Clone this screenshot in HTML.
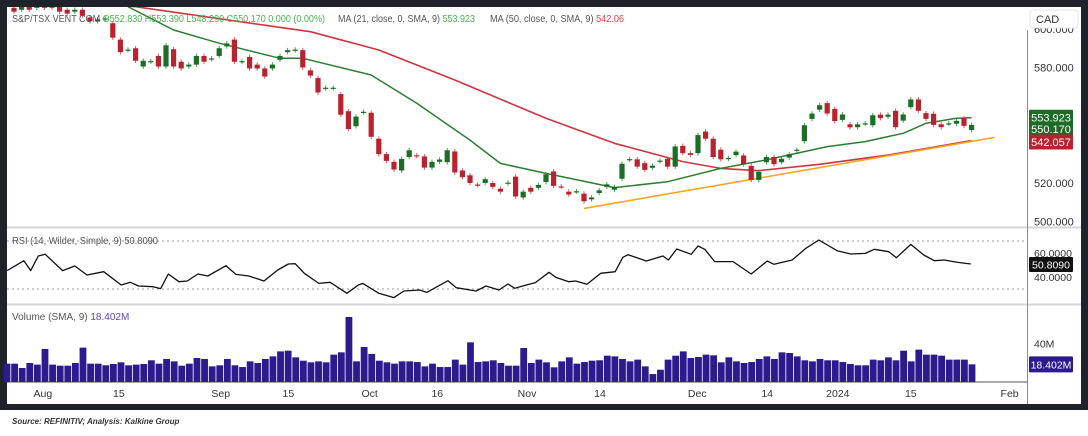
<!DOCTYPE html>
<html><head><meta charset="utf-8">
<style>
html,body{margin:0;padding:0;background:#fff;}
body{width:1088px;height:436px;overflow:hidden;position:relative;font-family:"Liberation Sans",sans-serif;}
svg{position:absolute;left:0;top:0;}
</style></head>
<body>
<svg id="chart" width="1088" height="436" viewBox="0 0 1088 436" xmlns="http://www.w3.org/2000/svg">
  <rect x="0" y="0" width="1088" height="410" fill="#1f222b"/>
  <rect x="7" y="7" width="1074" height="397" fill="#ffffff"/>
  <defs>
    <clipPath id="mainClip"><rect x="7" y="7" width="1020" height="220"/></clipPath>
    <clipPath id="rsiClip"><rect x="7" y="228" width="1020" height="76"/></clipPath>
  </defs>
  <line x1="7" y1="227.5" x2="1081" y2="227.5" stroke="#d6d6d6" stroke-width="2"/>
  <line x1="7" y1="304.5" x2="1081" y2="304.5" stroke="#d6d6d6" stroke-width="2"/>
  <line x1="1027.5" y1="30" x2="1027.5" y2="404" stroke="#8a8a8a" stroke-width="1"/>
  <line x1="7" y1="382" x2="1027" y2="382" stroke="#555" stroke-width="1"/>
  <g id="gMain" clip-path="url(#mainClip)"></g>
  <g id="gRsi" clip-path="url(#rsiClip)"></g>
  <g id="gVol"></g>
  <g id="gAxis"></g>
  <g id="gLabels"></g>
  <text x="12" y="22" font-size="10" fill="#555" textLength="313" lengthAdjust="spacingAndGlyphs">S&amp;P/TSX VENT COM <tspan fill="#4caf50">O552.830  H553.390  L548.290  C550.170  0.000 (0.00%)</tspan></text>
  <text x="338" y="22" font-size="10" fill="#555" textLength="137" lengthAdjust="spacingAndGlyphs">MA (21, close, 0, SMA, 9)  <tspan fill="#4caf50">553.923</tspan></text>
  <text x="490" y="22" font-size="10" fill="#555" textLength="134" lengthAdjust="spacingAndGlyphs">MA (50, close, 0, SMA, 9)  <tspan fill="#e04050">542.06</tspan></text>
  <rect x="1030" y="10" width="48" height="18" rx="3" fill="#fff" stroke="#e4e4e4"/>
  <text x="1036" y="23" font-size="11" fill="#333">CAD</text>
  <text x="12" y="244" font-size="10" fill="#555" textLength="146" lengthAdjust="spacingAndGlyphs">RSI (14, Wilder, Simple, 9)  50.8090</text>
  <text x="12" y="320" font-size="10" fill="#555">Volume (SMA, 9)  <tspan fill="#5b47c8">18.402M</tspan></text>
  <text x="12" y="424" font-size="8" font-weight="bold" font-style="italic" fill="#333">Source: REFINITIV; Analysis: Kalkine Group</text>
</svg>
<script>
// ---- data ----
const opens=[611,610,612,611,613,611,612,610,609,610,606,604,605,603,594.5,589,590,580.5,583,586,580.5,589.5,583,580.5,581.5,586,584.3,586,591,594.5,583,585.5,581.5,579.5,579.5,584,588,589,589,578.5,574.5,569.2,569.2,566.2,557.3,549.5,556.7,556.5,543,535,531,526.5,533.5,534.4,533.8,528,531,530.8,536.4,526.5,524,519.2,520,520,517,519.8,523.3,512.5,517.5,517.5,520.5,526,518.2,515.5,515.5,514.5,511.5,514.8,518,516.5,522.2,532.1,532.3,530.3,527.9,531.3,532.6,528.5,539.3,535.5,535.5,546.7,543,537.3,532.6,534.5,534.3,528.9,521.6,530.8,533.5,530.8,533.2,536.8,541.7,553.3,558.1,561.5,558.5,552.8,550.5,549,550.8,550,555.5,554.4,557.5,552.4,559.4,563.4,556.3,556,550.5,550.8,550.8,553.7,547.5];
const closes=[609,612,610,613,611,612,609,608,610,607,604,605,605.5,595.5,588,589.3,583.5,583.5,583.3,580.5,591.5,580.5,579.5,581.5,586,583,584.7,590,592.5,583,583.3,579.5,579.5,575.3,581.5,586,589,589.3,580,575.8,567,569.5,569.5,555.5,548,554.5,557,544,535,531.5,527,532.5,537,534,528,531,532.2,537,525.5,523,520,519,522,518,515.5,520.2,513,515.5,515.5,519,524.5,518.5,518,514,515.7,510.5,512.5,516.2,519.3,518,530,532.4,528.5,526.8,529,531.6,528.5,539,535.5,534.6,544.9,543,533.5,532.3,533,536.3,529.8,521.6,525.8,533.5,529.8,532.6,535,537.3,550,556.1,560.4,556.1,552.2,555.6,548.9,550.5,551,555.2,553.7,555.5,549,555.6,563.4,557.5,553.3,550.2,549,551,552.3,549.7,550.17];
const ma21Idx=[15,21,27,35,38,47,53,60,64,70,79,86,93,99,107,112,117,120,124,126];
const ma21Val=[611.6,599.5,592.6,584.8,584.8,576.1,561.4,542.3,530.2,525,517.6,520.7,527.6,532,538.9,541.5,545.8,551,553.6,553.9];
const ma50Idx=[11,16,39,48,58,70,79,88,93,98,106,115,126];
const ma50Val=[613,611.6,598.6,589.1,573.5,553.6,540.6,531.1,527.6,526.4,529.7,534.5,542.06];
const trendIdx=[75,129];
const trendVal=[506.8,543.7];
const rsiIdx=[-0.9,1.3,2.2,3.2,4.1,6.4,8.0,9.6,11.8,14.1,15.3,16.4,18.3,19.3,20.3,21.7,22.8,24.2,25.5,27.9,29.2,30.9,32.9,34.7,36.1,37.0,38.2,40.1,41.6,43.8,45.3,45.9,48.0,50.0,51.3,53.4,54.3,57.1,58.2,60.8,62.1,63.8,65.0,65.9,67.4,68.6,70.4,71.3,73.0,73.9,75.4,77.2,79.1,80.1,80.8,83.2,85.4,86.1,87.2,89.1,90.0,90.9,92.2,94.6,97.0,99.1,100.0,102.4,104.2,105.9,108.3,110.1,112.0,113.2,115.1,116.1,118.0,119.7,121.1,122.4,124.2,125.9];
const rsiVal=[45.3,53.6,45.3,57.5,58.9,45.3,49.2,41.7,44.4,33.3,35.6,32.5,31.9,30.3,42.5,36.1,36.7,42.5,40.8,49.4,42.2,40.8,36.7,45.8,50.8,51.1,43.1,34.7,35.6,26.4,33.3,34.7,26.4,22.8,28.3,29.2,27.2,36.9,31.1,28.3,32.5,29.2,34.2,30.6,33.3,35.3,43.9,39.7,36.1,36.7,33.9,43.1,44.4,56.4,58.6,53.3,57.5,54.2,63.3,58.9,65.8,63.1,52.8,52.8,42.5,53.3,50.6,54.2,63.9,70.8,61.9,59.2,59.7,63.1,61.1,56.1,67.2,58.3,53.6,54.2,52.2,50.81];
const volumes=[19.1,19.1,14.6,19.8,18.1,34.4,18.1,17.0,17.0,19.8,35.8,19.1,19.1,17.4,18.8,20.5,17.4,18.1,18.8,22.6,19.1,24.0,21.5,17.0,19.1,25.0,24.0,16.3,17.4,24.0,17.4,15.6,21.5,19.8,24.0,26.7,31.9,32.6,25.7,22.2,20.5,21.5,20.5,28.5,30.9,67.7,21.5,36.5,29.2,22.2,20.5,19.1,21.5,21.5,20.8,16.3,19.1,15.6,15.6,23.3,18.1,41.3,20.8,21.5,22.6,19.8,17.0,17.0,35.4,19.8,23.3,20.5,15.3,21.5,25.7,19.1,20.8,22.2,22.6,27.4,26.7,24.0,21.5,23.3,16.3,8.3,12.8,23.3,27.4,31.9,25.0,26.0,28.5,27.8,20.5,25.7,21.5,19.8,20.8,24.0,26.7,24.0,30.9,30.2,26.7,22.6,21.5,24.0,22.6,22.6,20.8,18.8,17.4,17.4,23.3,22.6,25.7,22.6,32.6,21.5,33.7,28.5,28.5,27.4,23.3,23.3,23.3,18.4];
const priceTicks=[600,580,560,540,520,500];
const rsiTicks=[60,40];
const volTicks=[40];
const dateLabels=["Aug","15","Sep","15","Oct","16","Nov","14","Dec","14","2024","15","Feb"];
const dateIdx=[3.8,13.8,27.2,36.1,46.8,55.7,67.5,77.1,89.9,99.1,108.4,118.0,131.0];

// ---- scales ----
const NS="http://www.w3.org/2000/svg";
const xC=i=>14+i*7.6;
const yP=p=>183-(p-520)*1.925;
const yR=v=>253-(v-60)*1.2;
const yV=m=>382-m*0.96;
const xV=i=>7+i*(965/(volumes.length-1));
function mk(tag,attrs,parent){const e=document.createElementNS(NS,tag);for(const k in attrs)e.setAttribute(k,attrs[k]);parent.appendChild(e);return e;}
const gMain=document.getElementById('gMain'),gRsi=document.getElementById('gRsi'),gVol=document.getElementById('gVol'),gAxis=document.getElementById('gAxis'),gL=document.getElementById('gLabels');

function poly(idx,val,color,w,name){
  const pts=idx.map((i,k)=>xC(i).toFixed(1)+','+yP(val[k]).toFixed(1)).join(' ');
  const e=mk('polyline',{points:pts,fill:'none',stroke:color,'stroke-width':w,'stroke-linejoin':'round'},gMain);
  
  
}
poly(ma50Idx,ma50Val,'#cc3440',1.6,'ma50-line');
poly(trendIdx,trendVal,'#f5a623',1.6,'trend-line');
poly(ma21Idx,ma21Val,'#2e7d32',1.5,'ma21-line');

for(let i=0;i<opens.length;i++){
  const o=opens[i],c=closes[i],up=c>=o;
  const col=up?'#1b6e25':'#b8232f';
  const x=xC(i);
  const hi=Math.max(o,c)+1.2,lo=Math.min(o,c)-1.2;
  const g=mk('g',{},gMain);
  
  
  mk('line',{x1:x,x2:x,y1:yP(hi),y2:yP(lo),stroke:up?'#4c9a55':'#d45a63','stroke-width':1},g);
  const t=yP(Math.max(o,c)),b=yP(Math.min(o,c));
  mk('rect',{x:x-2.6,y:t,width:5.2,height:Math.max(1.2,b-t),fill:col},g);
}

mk('line',{x1:7,x2:1027,y1:yR(70),y2:yR(70),stroke:'#999','stroke-dasharray':'2,3'},gRsi);
mk('line',{x1:7,x2:1027,y1:yR(30),y2:yR(30),stroke:'#999','stroke-dasharray':'2,3'},gRsi);
const rsiLine=mk('polyline',{points:rsiIdx.map((i,k)=>xC(i).toFixed(1)+','+yR(rsiVal[k]).toFixed(1)).join(' '),fill:'none',stroke:'#111','stroke-width':1.3,'stroke-linejoin':'round'},gRsi);



const bw=965/(volumes.length-1);
for(let i=0;i<volumes.length;i++){
  const r=mk('rect',{x:xV(i)-bw/2+0.4,y:yV(volumes[i]),width:bw-0.8,height:382-yV(volumes[i]),fill:'#2d1a8e'},gVol);
  
  
}

priceTicks.forEach(p=>{
  if(p===560||p===540)return;
  const t=mk('text',{x:1034,y:yP(p)+4,'font-size':11,fill:'#333'},gAxis);t.textContent=p.toFixed(3);
  
  
});
rsiTicks.forEach(v=>{const t=mk('text',{x:1034,y:yR(v)+4,'font-size':10.5,fill:'#333'},gAxis);t.textContent=v.toFixed(4);
  
  });
volTicks.forEach(v=>{const t=mk('text',{x:1034,y:yV(v)+4,'font-size':10.5,fill:'#333'},gAxis);t.textContent=v+'M';
  
  });
dateLabels.forEach((s,k)=>{const t=mk('text',{x:xC(dateIdx[k]),y:397,'font-size':10.5,fill:'#333','text-anchor':'middle'},gAxis);t.textContent=s;
  
  });

function tag(y,h,fill,text,name,fs){
  const g=mk('g',{},gL);
  
  
  mk('rect',{x:1029,y:y,width:44,height:h,fill:fill,rx:1},g);
  const t=mk('text',{x:1051,y:y+h/2+4,'font-size':fs||11,fill:'#fff','text-anchor':'middle'},g);t.textContent=text;
}
tag(yP(553.923)-8,32,'#1d6b27','','ma21-price-tag');
const t1=mk('text',{x:1051,y:yP(553.923)+4,'font-size':11,fill:'#fff','text-anchor':'middle'},gL);t1.textContent='553.923';
const t2=mk('text',{x:1051,y:yP(550.17)+8,'font-size':11,fill:'#fff','text-anchor':'middle'},gL);t2.textContent='550.170';
tag(yP(542.057)-6,15,'#b8232f','542.057','ma50-price-tag');
tag(yR(50.809)-7,15,'#111','50.8090','rsi-value-tag',10.5);
tag(yV(18.402)-8,16,'#2d1a8e','18.402M','volume-value-tag',10.5);
</script>
</body></html>
